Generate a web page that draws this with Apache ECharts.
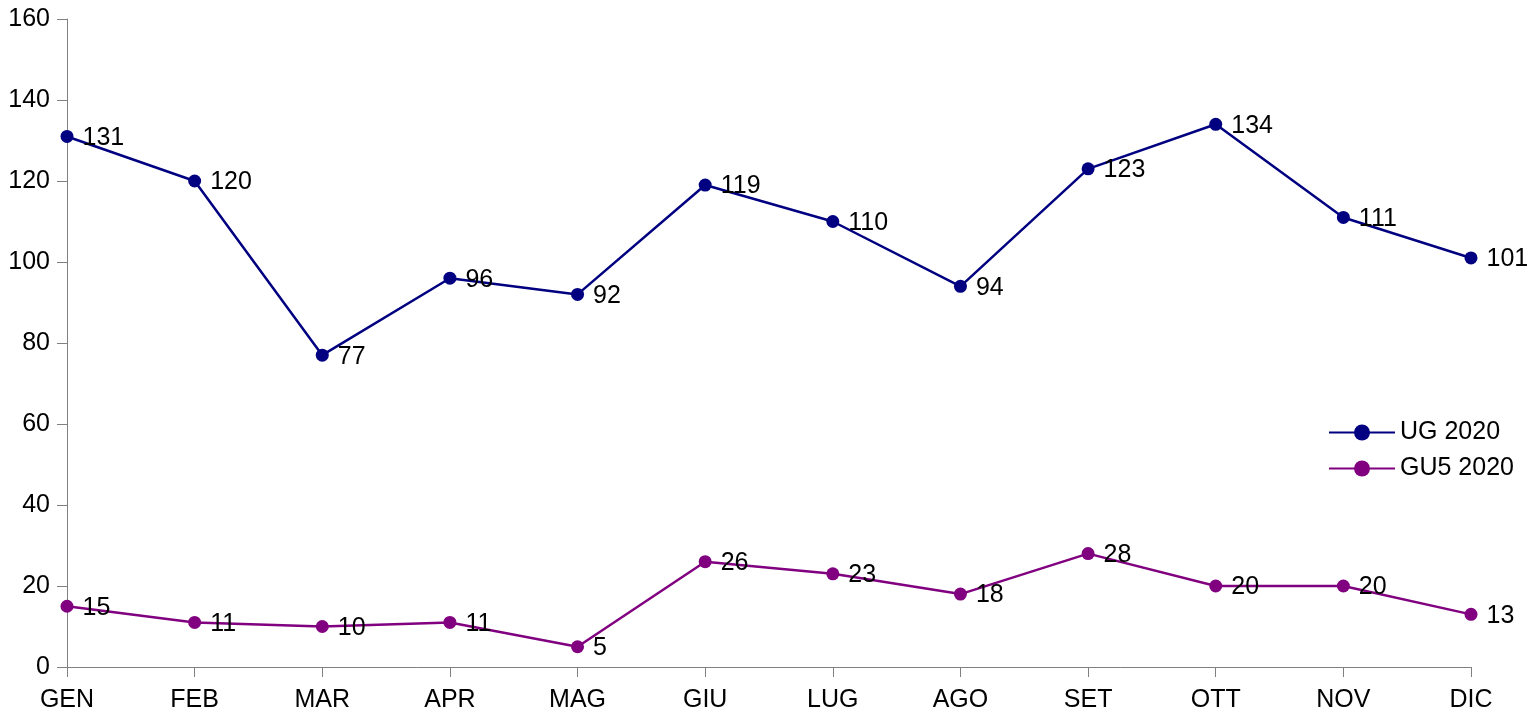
<!DOCTYPE html>
<html>
<head>
<meta charset="utf-8">
<script src="https://cdn.jsdelivr.net/npm/echarts@6/dist/echarts.min.js"></script>
<style>
html,body{margin:0;padding:0;background:#fff;}
#chart{width:1533px;height:718px;}
</style>
</head>
<body>
<div id="chart"></div>
<script>
var categories = ['GEN','FEB','MAR','APR','MAG','GIU','LUG','AGO','SET','OTT','NOV','DIC'];
var ug2020 = [131,120,77,96,92,119,110,94,123,134,111,101];
var gu52020 = [15,11,10,11,5,26,23,18,28,20,20,13];
var seriesNames = ['UG 2020','GU5 2020'];

var font = 'Liberation Sans, Arial, sans-serif';
var chart = echarts.init(document.getElementById('chart'));
function lineSeries(name, data, color) {
  return {
    name: name,
    type: 'line',
    data: data,
    symbol: 'circle',
    symbolSize: 13,
    lineStyle: {color: color, width: 2.5},
    itemStyle: {color: color},
    label: {show: true, position: 'right', distance: 9, color: '#000', fontSize: 25, fontFamily: font, offset: [0, 1.5]},
    animation: false
  };
}
chart.setOption({
  animation: false,
  grid: {left: 67, right: 62, top: 19, bottom: 51, containLabel: false},
  legend: {
    orient: 'vertical',
    left: 1323,
    top: 415,
    itemWidth: 66,
    itemHeight: 20,
    itemGap: 11,
    textStyle: {fontSize: 25, fontFamily: font, color: '#000'},
    data: seriesNames
  },
  xAxis: {
    type: 'category',
    data: categories,
    boundaryGap: false,
    axisLine: {lineStyle: {color: '#808080', width: 1}},
    axisTick: {show: true, length: 10, alignWithLabel: true, lineStyle: {color: '#808080'}},
    axisLabel: {fontSize: 25, fontFamily: font, color: '#000', margin: 21, interval: 0},
    splitLine: {show: false}
  },
  yAxis: {
    type: 'value',
    min: 0,
    max: 160,
    interval: 20,
    axisLine: {show: true, lineStyle: {color: '#808080', width: 1}},
    axisTick: {show: true, length: 10, lineStyle: {color: '#808080'}},
    axisLabel: {fontSize: 25, fontFamily: font, color: '#000', margin: 17},
    splitLine: {show: false}
  },
  series: [
    lineSeries(seriesNames[0], ug2020, '#000080'),
    lineSeries(seriesNames[1], gu52020, '#800080')
  ]
});
</script>
</body>
</html>
